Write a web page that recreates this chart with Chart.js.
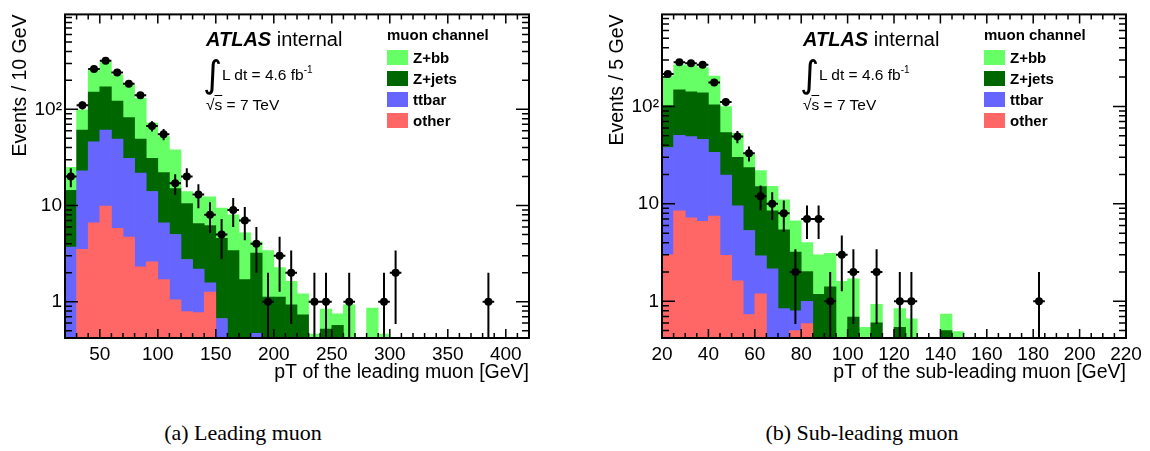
<!DOCTYPE html>
<html>
<head>
<meta charset="utf-8">
<script src="https://cdn.jsdelivr.net/npm/chart.js@4.4.1/dist/chart.umd.min.js"></script>
<style>
  body { margin: 0; background: #fff; font-family: "Liberation Sans", Arial, sans-serif; }
  #page { position: relative; width: 1150px; height: 451px; overflow: hidden; }
  .panel { position: absolute; top: 0; width: 553px; height: 400px; }
  .panel canvas { position: absolute; left: 0; top: 0; }
  .txt { position: absolute; white-space: nowrap; color: #000; }
  .atlas { left: 206px; top: 28.5px; font-size: 20px; line-height: 20px; }
  .atlas b { font-style: italic; }
  .integral { left: 203px; top: 56px; font-family: "DejaVu Sans"; font-size: 37px; line-height: 37px; }
  .lumi { left: 222px; top: 67px; font-size: 15.5px; line-height: 15.5px; }
  .lumi sup { font-size: 10px; vertical-align: 0; position: relative; top: -7px; }
  .rts { left: 206px; top: 97px; font-size: 15.5px; line-height: 15.5px; }
  .rts span { text-decoration: overline; }
  .leg-head { left: 387px; top: 27px; font-size: 15px; line-height: 15px; font-weight: bold; }
  .leg-box { position: absolute; left: 387px; width: 21px; height: 15px; }
  .leg-txt { left: 413px; font-size: 15px; line-height: 15px; font-weight: bold; }
  .caption { position: absolute; top: 422px; font-family: "Liberation Serif", serif; font-size: 22px; line-height: 22px; transform: translateX(-50%); white-space: nowrap; }
</style>
</head>
<body>
<div id="page">
  <div class="panel" id="lead" style="left:0"><canvas id="cLead" width="553" height="400"></canvas></div>
  <div class="panel" id="sub" style="left:597px"><canvas id="cSub" width="553" height="400"></canvas></div>
  <div class="caption" style="left:243px">(a) Leading muon</div>
  <div class="caption" style="left:862px">(b) Sub-leading muon</div>
</div>
<script>
// legend order, top to bottom (stacking goes the other way)
const seriesNames = ['Z+bb', 'Z+jets', 'ttbar', 'other'];
const seriesColors = ['#66ff66', '#006600', '#6666ff', '#ff6666'];

const yTicks = [1, 10, 100];
const yTickLabels = ['1', '10', '10²'];

// leading muon, 10 GeV bins (lower edges)
const leadBins = [20, 30, 40, 50, 60, 70, 80, 90, 100, 110, 120, 130, 140, 150, 160, 170, 180, 190, 200, 210,
  220, 230, 240, 250, 260, 270, 280, 290, 300, 310, 320, 330, 340, 350, 360, 370, 380, 390, 400, 410];
const leadXTicks = [50, 100, 150, 200, 250, 300, 350, 400];
const leadZbb = [10.6, 38, 115, 139, 106, 98, 81, 41, 30, 23, 3.5, 5.8, 6.1, 4.84, 4.6, 3.5, 1.0, 2.28, 1.14, 0.7,
  0.48, 0.46, 0.32, 0.18, 0.93, 0, 0.86, 0.46, 0, 0, 0, 0, 0, 0, 0, 0, 0, 0, 0, 0];
const leadZjets = [10.7, 38, 105, 110, 73, 51, 27.3, 17, 15.4, 10, 7.75, 4.31, 4.63, 3.89, 3.4, 1.7, 2.73, 1.12, 1.12, 0.93,
  0.73, 0, 0.52, 0.57, 0, 0, 0, 0, 0, 0, 0, 0, 0, 0, 0, 0, 0, 0, 0, 0];
const leadTtbar = [3.7, 19.5, 39.4, 51.1, 43.2, 26.3, 19.4, 11.4, 4.9, 3.95, 1.96, 1.42, 0.31, 0.67, 0, 0, 0.47, 0, 0, 0,
  0, 0, 0, 0, 0, 0, 0, 0, 0, 0, 0, 0, 0, 0, 0, 0, 0, 0, 0, 0];
const leadOther = [0, 3.5, 6.6, 9.9, 5.8, 4.7, 2.3, 2.6, 1.7, 1.05, 0.79, 0.77, 1.26, 0, 0, 0, 0, 0, 0, 0,
  0, 0, 0, 0, 0, 0, 0, 0, 0, 0, 0, 0, 0, 0, 0, 0, 0, 0, 0, 0];
const leadData = [20, 110, 262, 320, 242, 185, 140, 67, 55, 17, 20, 13, 8, 5, 9, 7, 4, 1, 3, 2,
  0, 1, 1, 0, 1, 0, 0, 1, 2, 0, 0, 0, 0, 0, 0, 0, 1, 0, 0, 0];

// sub-leading muon, 5 GeV bins (lower edges)
const subBins = [20, 25, 30, 35, 40, 45, 50, 55, 60, 65, 70, 75, 80, 85, 90, 95, 100, 105, 110, 115,
  120, 125, 130, 135, 140, 145, 150, 155, 160, 165, 170, 175, 180, 185, 190, 195, 200, 205, 210, 215];
const subXTicks = [20, 40, 60, 80, 100, 120, 140, 160, 180, 200, 220];
const subZbb = [103, 119, 121, 112, 101, 46, 23, 8.5, 7, 6.6, 5.6, 3.5, 1.98, 1.82, 1.69, 1.6, 1.01, 0.54, 0.33, 0,
  0.3, 0.66, 0, 0, 0.24, 0.49, 0, 0, 0, 0, 0, 0, 0, 0, 0, 0, 0, 0, 0, 0];
const subZjets = [64, 97, 92, 92, 70, 34, 20.5, 18.2, 12.1, 6.35, 4.56, 2.4, 1.02, 1.18, 1.41, 0, 0.69, 0, 0.6, 0,
  0.54, 0, 0, 0, 0.5, 0, 0, 0, 0, 0, 0, 0, 0, 0, 0, 0, 0, 0, 0, 0];
const subTtbar = [34.9, 42.1, 41.8, 39.3, 26.3, 16.8, 7.9, 4.6, 1.73, 2.15, 0.84, 0.3, 0.41, 0, 0, 0, 0, 0, 0, 0,
  0, 0, 0, 0, 0, 0, 0, 0, 0, 0, 0, 0, 0, 0, 0, 0, 0, 0, 0, 0];
const subOther = [3.0, 8.5, 7.2, 6.6, 7.5, 2.96, 1.62, 0.73, 1.19, 0, 0, 0.5, 0.59, 0, 0, 0, 0, 0, 0, 0,
  0, 0, 0, 0, 0, 0, 0, 0, 0, 0, 0, 0, 0, 0, 0, 0, 0, 0, 0, 0];
const subData = [215, 284, 277, 267, 176, 111, 49, 33, 12, 10, 8, 2, 7, 7, 1, 3, 2, 0, 2, 0,
  1, 1, 0, 0, 0, 0, 0, 0, 0, 0, 0, 0, 1, 0, 0, 0, 0, 0, 0, 0];

Chart.defaults.font.family = '"Liberation Sans", Arial, sans-serif';
Chart.defaults.color = '#000';

// ROOT style box: ticks pointing inwards on all four sides
const frame = {
  id: 'frame',
  afterDraw(chart, args, o) {
    const { ctx, chartArea: a, scales: { x, y } } = chart;
    ctx.save();
    ctx.strokeStyle = '#000';
    ctx.lineWidth = 1.5;
    ctx.beginPath();
    for (let v = x.min; v <= x.max + 1e-9; v += o.minorStep) {
      const px = x.getPixelForValue(v);
      const len = x.ticks.some(t => t.value === v) ? 9 : 5;
      ctx.moveTo(px, a.bottom); ctx.lineTo(px, a.bottom - len);
      ctx.moveTo(px, a.top); ctx.lineTo(px, a.top + len);
    }
    const lo = Math.floor(Math.log10(y.min)), hi = Math.ceil(Math.log10(y.max));
    for (let d = lo; d < hi; d++) {
      for (let m = 1; m < 10; m++) {
        const v = m * Math.pow(10, d);
        if (v < y.min || v > y.max) continue;
        const py = y.getPixelForValue(v);
        const len = m === 1 ? 13 : 7;
        ctx.moveTo(a.left, py); ctx.lineTo(a.left + len, py);
        ctx.moveTo(a.right, py); ctx.lineTo(a.right - len, py);
      }
    }
    ctx.stroke();
    ctx.lineWidth = 2;
    ctx.strokeRect(a.left, a.top, a.right - a.left, a.bottom - a.top);
    ctx.restore();
  }
};

// poisson error bars under the data markers
const errorBars = {
  id: 'errorBars',
  beforeDatasetDraw(chart, args, o) {
    if (args.meta.type !== 'scatter') return;
    const { ctx, chartArea: a, scales: { x, y } } = chart;
    const pts = chart.data.datasets[args.index].data;
    ctx.save();
    ctx.beginPath();
    ctx.rect(a.left, a.top, a.right - a.left, a.bottom - a.top);
    ctx.clip();
    ctx.strokeStyle = '#000';
    ctx.lineWidth = 2;
    ctx.beginPath();
    args.meta.data.forEach((el, i) => {
      const d = pts[i];
      const e = Math.sqrt(d.y);
      ctx.moveTo(el.x, y.getPixelForValue(d.y + e));
      ctx.lineTo(el.x, d.y - e > 0 ? y.getPixelForValue(d.y - e) : a.bottom);
      ctx.moveTo(x.getPixelForValue(d.x - o.half), el.y);
      ctx.lineTo(x.getPixelForValue(d.x + o.half), el.y);
    });
    ctx.stroke();
    ctx.restore();
  }
};

function buildChart(canvasId, h) {
  const centers = h.bins.map(b => b + h.width / 2);
  const toPts = vals => vals.map((v, i) => ({ x: centers[i], y: v }));
  const datasets = [];
  for (let k = h.series.length - 1; k >= 0; k--) {
    datasets.push({
      type: 'bar', label: seriesNames[k], data: toPts(h.series[k]),
      backgroundColor: seriesColors[k], borderWidth: 0,
      barPercentage: 1, categoryPercentage: 1, stack: 'mc', order: 1
    });
  }
  datasets.push({
    type: 'scatter', label: 'data', data: toPts(h.data).filter(p => p.y > 0),
    pointRadius: 4, pointBackgroundColor: '#000', pointBorderWidth: 0,
    stack: 'data', order: 0
  });

  return new Chart(document.getElementById(canvasId), {
    type: 'bar',
    data: { datasets },
    plugins: [frame, errorBars],
    options: {
      responsive: false,
      animation: false,
      events: [],
      layout: { padding: { left: 0, top: 5, right: 24, bottom: 0 } },
      plugins: {
        legend: { display: false },
        tooltip: { enabled: false },
        frame: { minorStep: h.minorStep },
        errorBars: { half: h.width / 2 }
      },
      scales: {
        x: {
          type: 'linear', min: h.min, max: h.max, stacked: true, offset: false,
          grid: { display: false, drawTicks: false, tickLength: 0 }, border: { display: false },
          afterBuildTicks: s => { s.ticks = h.xTicks.map(v => ({ value: v })); },
          afterFit: s => { s.height = 62; },
          ticks: { autoSkip: false, maxRotation: 0, padding: 5, font: { size: 19 } },
          title: { display: true, text: h.xTitle, align: 'end', font: { size: 19.5 }, padding: { top: 0, bottom: 16 } }
        },
        y: {
          type: 'logarithmic', min: h.yMin, max: h.yMax, stacked: true,
          grid: { display: false, drawTicks: false, tickLength: 0 }, border: { display: false },
          afterBuildTicks: s => { s.ticks = yTicks.map(v => ({ value: v })); },
          afterFit: s => { s.width = 65; },
          ticks: { autoSkip: false, padding: 3, font: { size: 19 }, callback: v => yTickLabels[yTicks.indexOf(v)] },
          title: { display: true, text: h.yTitle, align: 'end', font: { size: 19.5 }, padding: { top: 8.5, bottom: 0 } }
        }
      }
    }
  });
}

function annotate(panelId) {
  const p = document.getElementById(panelId);
  let html = '<div class="txt atlas"><b>ATLAS</b> internal</div>' +
    '<div class="txt integral">∫</div>' +
    '<div class="txt lumi">L dt = 4.6 fb<sup>-1</sup></div>' +
    '<div class="txt rts">√<span>s</span> = 7 TeV</div>' +
    '<div class="txt leg-head">muon channel</div>';
  seriesNames.forEach((name, i) => {
    const top = 50 + 21 * i;
    html += `<div class="leg-box" style="top:${top}px;background:${seriesColors[i]}"></div>` +
      `<div class="txt leg-txt" style="top:${top}px">${name}</div>`;
  });
  p.insertAdjacentHTML('beforeend', html);
}

buildChart('cLead', {
  bins: leadBins, width: 10, min: 20, max: 420, minorStep: 10, xTicks: leadXTicks,
  yMin: 0.42, yMax: 970,
  series: [leadZbb, leadZjets, leadTtbar, leadOther], data: leadData,
  xTitle: 'pT of the leading muon [GeV]', yTitle: 'Events / 10 GeV'
});
buildChart('cSub', {
  bins: subBins, width: 5, min: 20, max: 220, minorStep: 5, xTicks: subXTicks,
  yMin: 0.42, yMax: 880,
  series: [subZbb, subZjets, subTtbar, subOther], data: subData,
  xTitle: 'pT of the sub-leading muon [GeV]', yTitle: 'Events / 5 GeV'
});
annotate('lead');
annotate('sub');
</script>
</body>
</html>
